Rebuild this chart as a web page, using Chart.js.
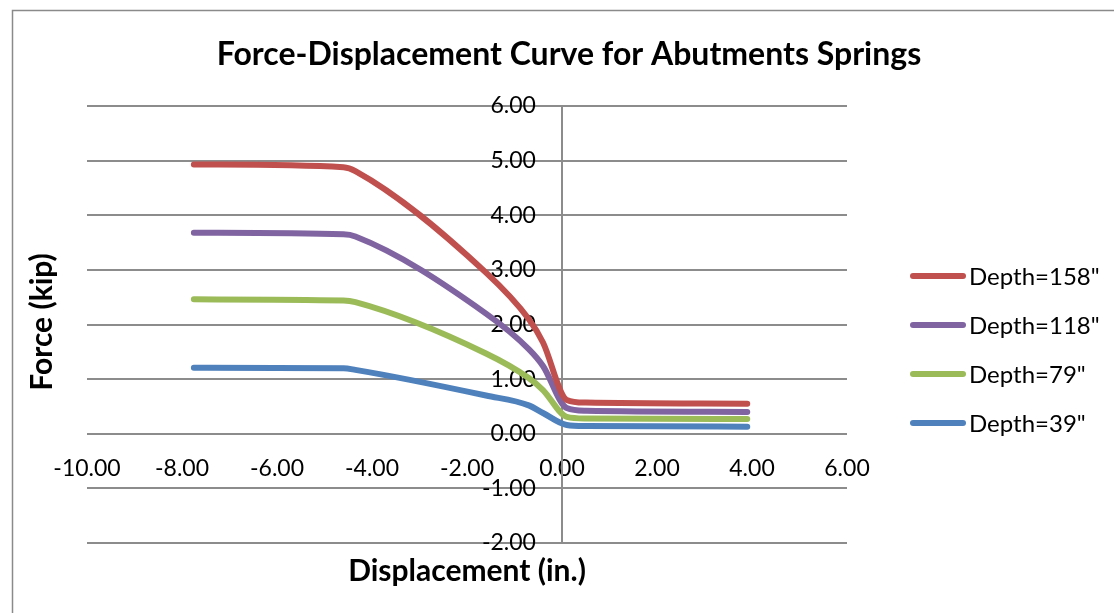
<!DOCTYPE html>
<html>
<head>
<meta charset="utf-8">
<script src="https://cdn.jsdelivr.net/npm/chart.js@4.4.1/dist/chart.umd.min.js"></script>
<style>
  html, body { margin: 0; padding: 0; background: #ffffff; }
  #wrap { position: relative; width: 1114px; height: 613px; }
</style>
</head>
<body>
<div id="wrap"><canvas id="c" width="1114" height="613"></canvas></div>
<script>
// ---- data ----
const chartTitle = 'Force-Displacement Curve for Abutments Springs';
const xTitle = 'Displacement (in.)';
const yTitle = 'Force (kip)';
const seriesNames = ['Depth=158"', 'Depth=118"', 'Depth=79"', 'Depth=39"'];
const seriesColors = ['#C0504D', '#8064A2', '#9BBB59', '#4F81BD'];
const displacement = [-7.75, -4.6, -4.35, -1.6, -0.7, -0.4, 0.1, 0.5, 3.9];
const force158 = [4.93, 4.88, 4.81, 2.95, 2.10, 1.67, 0.62, 0.57, 0.55];
const force118 = [3.68, 3.65, 3.61, 2.20, 1.55, 1.24, 0.47, 0.42, 0.40];
const force79  = [2.46, 2.44, 2.41, 1.47, 1.02, 0.80, 0.31, 0.28, 0.27];
const force39  = [1.21, 1.20, 1.17, 0.70, 0.52, 0.38, 0.16, 0.14, 0.13];
const xMin = -10, xMax = 6, xStep = 2;
const yMin = -2, yMax = 6, yStep = 1;

const seriesValues = [force158, force118, force79, force39];
const FONT = 'Lato, "Open Sans", sans-serif';
const GRID = '#8c8c8c';

const datasets = seriesNames.map((name, i) => ({
  label: name,
  data: displacement.map((x, j) => ({ x: x, y: seriesValues[i][j] })),
  borderColor: seriesColors[i],
  backgroundColor: seriesColors[i],
  borderWidth: 6,
  borderCapStyle: 'round',
  borderJoinStyle: 'round',
  showLine: true,
  pointRadius: 0,
  pointHoverRadius: 0,
  cubicInterpolationMode: 'monotone',
  fill: false
}));

const decor = {
  id: 'decor',
  afterDraw(chart) {
    const ctx = chart.ctx;
    const a = chart.chartArea;
    ctx.save();
    // outer frame
    ctx.strokeStyle = '#8a8a8a';
    ctx.lineWidth = 1.5;
    ctx.beginPath();
    ctx.moveTo(12.5, 613);
    ctx.lineTo(12.5, 10.5);
    ctx.lineTo(1114, 10.5);
    ctx.stroke();
    // title
    ctx.fillStyle = '#000';
    ctx.textAlign = 'center';
    ctx.textBaseline = 'middle';
    ctx.font = 'bold 32px ' + FONT;
    ctx.fillText(chartTitle, 569, 55);
    // x title
    ctx.font = 'bold 30px ' + FONT;
    ctx.fillText(xTitle, (a.left + a.right) / 2, 571);
    // y title
    ctx.save();
    ctx.translate(42, 322);
    ctx.rotate(-Math.PI / 2);
    ctx.fillText(yTitle, 0, 0);
    ctx.restore();
    // legend
    ctx.textAlign = 'left';
    ctx.font = '24px ' + FONT;
    chart.data.datasets.forEach((ds, i) => {
      const y = 276 + i * 49;
      ctx.strokeStyle = ds.borderColor;
      ctx.lineWidth = 6;
      ctx.lineCap = 'round';
      ctx.beginPath();
      ctx.moveTo(913, y);
      ctx.lineTo(963, y);
      ctx.stroke();
      ctx.fillStyle = '#000';
      ctx.fillText(ds.label, 969, y + 1);
    });
    ctx.restore();
  }
};

new Chart(document.getElementById('c'), {
  type: 'scatter',
  data: { datasets: datasets },
  options: {
    responsive: false,
    animation: false,
    layout: { padding: { left: 87, right: 267, top: 106, bottom: 70 } },
    plugins: { legend: { display: false }, title: { display: false }, tooltip: { enabled: false } },
    scales: {
      x: {
        type: 'linear',
        min: xMin, max: xMax,
        position: { y: 0 },
        grid: { display: false, drawTicks: false },
        border: { display: false },
        ticks: {
          stepSize: xStep,
          padding: 21,
          color: '#000',
          maxRotation: 0,
          autoSkip: false,
          font: { family: FONT, size: 23 },
          callback: (v) => Number(v).toFixed(2)
        }
      },
      y: {
        type: 'linear',
        min: yMin, max: yMax,
        position: { x: 0 },
        grid: { color: GRID, lineWidth: 2, drawTicks: false },
        border: { display: true, color: GRID, width: 2 },
        ticks: { display: false, stepSize: yStep }
      },
      y2: {
        type: 'linear',
        axis: 'y',
        min: yMin, max: yMax,
        position: { x: -0.55 },
        grid: { display: false, drawTicks: false },
        border: { display: false },
        ticks: {
          stepSize: yStep,
          color: '#000',
          autoSkip: false,
          font: { family: FONT, size: 23 },
          callback: (v) => Number(v).toFixed(2)
        }
      }
    }
  },
  plugins: [decor]
});
</script>
</body>
</html>
